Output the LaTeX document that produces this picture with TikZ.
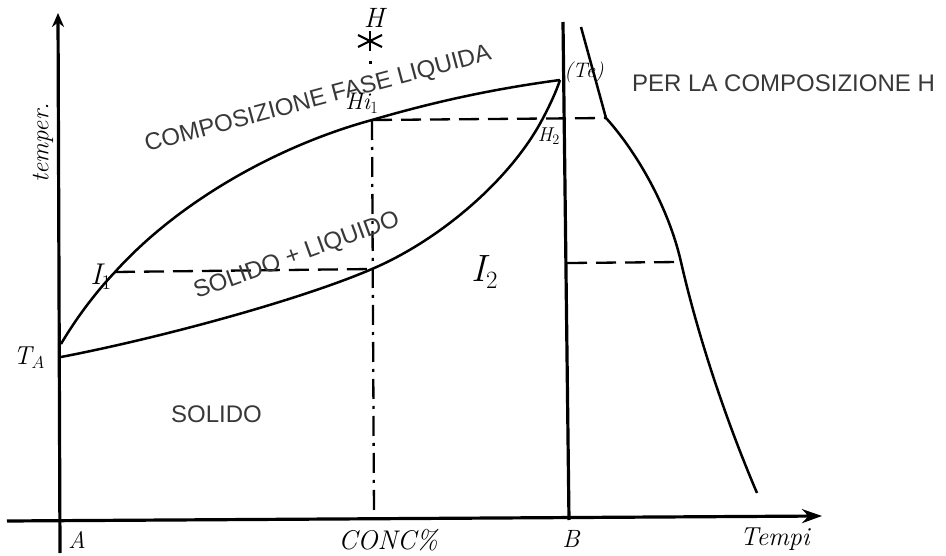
\documentclass[tikz,border=0pt]{standalone}
\usepackage{fontspec}
\newfontfamily\printfont{Liberation Sans}
\usetikzlibrary{arrows.meta,positioning}

\begin{document}
\begin{tikzpicture}[x=1pt, y=-1pt,
  axis/.style={line width=3.2pt},
  curve/.style={line width=2.5pt},
  guide/.style={line width=2.3pt, dash pattern=on 20pt off 9pt},
  guidedot/.style={line width=2.3pt, dash pattern=on 20pt off 7pt on 3pt off 7pt},
  printed/.style={font=\printfont\fontsize{24}{28}\selectfont, text=black!78, inner sep=0pt},
  hand/.style={font=\itshape\fontsize{22}{24}\selectfont, inner sep=0pt}
]
  \useasboundingbox (0,0) rectangle (946,556);

  % axes and the line of pure B
  \coordinate (ybot) at (60,553);
  \coordinate (ytop) at (58,13);
  \coordinate (xleft) at (7,521);
  \coordinate (xright) at (822,516);
  \coordinate (btop) at (563,22);
  \coordinate (bbot) at (569,520);
  \draw[axis, -{Stealth[length=14pt,width=12pt]}] (ybot) -- (ytop);
  \draw[axis, -{Stealth[length=20pt,width=14pt]}] (xleft) -- (xright);
  \draw[axis] (btop) -- (bbot);

  % points of the diagram
  \coordinate (ta) at (61,344);
  \coordinate (ta2) at (61,357);
  \coordinate (i1) at (115,272);
  \coordinate (h1) at (372,120);
  \coordinate (te) at (560,80);
  \coordinate (s1) at (372,269);
  \coordinate (h2) at (542,120);
  \coordinate (hdot) at (370,61);
  \coordinate (hbot) at (374,516);
  \coordinate (hstar) at (370,41);

  % liquidus and solidus
  \draw[curve] (ta) .. controls (75,320) and (95,293) .. (i1)
    .. controls (180,200) and (280,145) .. (h1)
    .. controls (440,100) and (500,88) .. (te);
  \draw[curve] (ta2) .. controls (160,338) and (300,300) .. (s1)
    .. controls (440,240) and (510,180) .. (h2)
    .. controls (550,105) and (556,92) .. (te);

  % composition H
  \draw[line width=2.2pt] (hstar) +(0,-10) -- +(0,10);
  \draw[line width=2.2pt] (hstar) +(-12,-6) -- +(12,6);
  \draw[line width=2.2pt] (hstar) +(-12,6) -- +(12,-6);
  \draw[line width=3pt] (hdot) -- ++(0,3);
  \draw[guidedot] (h1) -- (hbot);

  % cooling curve
  \coordinate (c0) at (581,27);
  \coordinate (c1) at (606,118);
  \coordinate (c2) at (681,262);
  \coordinate (c3) at (757,493);
  \coordinate (bmid) at (567,263);
  \draw[curve] (c0) -- (c1) .. controls (635,150) and (668,205) .. (c2)
    .. controls (700,345) and (730,430) .. (c3);

  % tie lines
  \draw[guide] (i1) -- (s1);
  \draw[guide] (h1) -- (c1);
  \draw[guide] (bmid) -- (c2);

  % printed labels
  \node[printed, anchor=base west, rotate=15] (liq) at (147,152) {COMPOSIZIONE FASE LIQUIDA};
  \node[printed, anchor=base west, rotate=20] (mix) at (197,299) {SOLIDO + LIQUIDO};
  \node[printed, anchor=base west] (sol) at (171,422) {SOLIDO};
  \node[printed, anchor=base west] (per) at (632,92) {PER LA COMPOSIZIONE H};

  % handwritten labels
  \node[hand, font=\itshape\fontsize{25}{27}\selectfont, rotate=90] (temp) at (43,143) {temper.};
  \node[hand, font=\itshape\fontsize{26}{28}\selectfont] (talab) at (29,358) {T$_A$};
  \node[hand, font=\itshape\fontsize{30}{32}\selectfont] (i1lab) at (101,277) {I$_1$};
  \node[hand, font=\itshape\fontsize{38}{40}\selectfont] (i2lab) at (485,272) {I$_2$};
  \node[hand, font=\itshape\fontsize{24}{26}\selectfont] (h1lab) at (362,103) {Hi$_1$};
  \node[hand, font=\itshape\fontsize{20}{22}\selectfont] (h2lab) at (549,136) {H$_2$};
  \node[hand, font=\itshape\fontsize{21}{23}\selectfont] (telab) at (584,72) {(Te)};
  \node[hand, font=\itshape\fontsize{28}{30}\selectfont] (hlab) at (374,18) {H};
  \node[hand, font=\itshape\fontsize{24}{26}\selectfont] (alab) at (77,540) {A};
  \node[hand, font=\itshape\fontsize{27}{29}\selectfont] (conclab) at (388,540) {CONC\%};
  \node[hand, font=\itshape\fontsize{25}{27}\selectfont] (blab) at (571,539) {B};
  \node[hand, font=\itshape\fontsize{26}{28}\selectfont] (tempi) at (775,539) {Tempi};
\end{tikzpicture}
\end{document}
